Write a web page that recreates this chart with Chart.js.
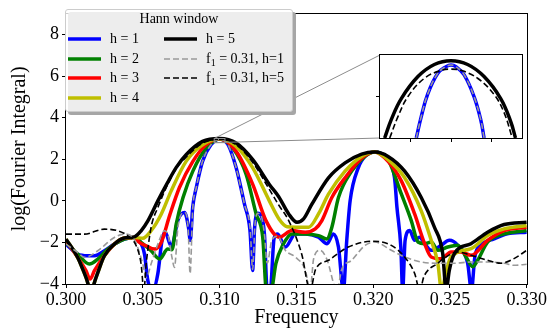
<!DOCTYPE html>
<html>
<head>
<meta charset="utf-8">
<script src="https://cdn.jsdelivr.net/npm/chart.js@4.4.1/dist/chart.umd.min.js"></script>
<style>
  html, body { margin: 0; padding: 0; background: #fff; }
  #wrap { position: relative; width: 548px; height: 331px; font-family: "Liberation Serif", "DejaVu Serif", serif; }
  #mainChart { position: absolute; left: 0; top: 0; }
  #insetChart { position: absolute; left: 370px; top: 48px; }
  #legendShadow { position: absolute; left: 68px; top: 12px; width: 228px; height: 103px; background: #a6a6a6; border-radius: 3px; }
  #legend { position: absolute; left: 65px; top: 9px; width: 226px; height: 101px; background: rgba(255,255,255,0.8); border: 1px solid #ccc; border-radius: 3px; }
  #legend .title { position: absolute; left: 0; right: 0; top: 0; text-align: center; font-size: 14px; line-height: 18px; }
  #legend .item { position: absolute; height: 18px; display: flex; align-items: center; font-size: 14px; white-space: nowrap; }
  #legend .item svg { margin-right: 9px; }
  #legend sub { font-size: 10px; vertical-align: -3px; line-height: 0; }
</style>
</head>
<body>
<div id="wrap">
  <canvas id="mainChart" width="548" height="331"></canvas>
  <canvas id="insetChart" width="160" height="100"></canvas>
  <div id="legendShadow"></div>
  <div id="legend"><div class="title">Hann window</div></div>
</div>
<script>
// axis ticks
const xTicks = [0.300, 0.305, 0.310, 0.315, 0.320, 0.325, 0.330];
const yTicks = [-4, -2, 0, 2, 4, 6, 8];
const insetXTicks = [0.3098, 0.3100, 0.3102];
const insetYTicks = [2.9];
const insetXRange = [0.30965, 0.31035];
const insetYRange = [2.8, 3.0];

// h = 1
const freqH1 = [0.3000, 0.30076, 0.30141, 0.30185, 0.3025, 0.30315, 0.3038, 0.30435, 0.30478, 0.30511, 0.30533, 0.30565, 0.30598, 0.30625, 0.30645, 0.30686, 0.3073, 0.30772, 0.30798, 0.30809, 0.30825, 0.30848, 0.30889, 0.30944, 0.3100, 0.31055, 0.31108, 0.31162, 0.31198, 0.31215, 0.31228, 0.31249, 0.3127, 0.31292, 0.3131, 0.3133, 0.31355, 0.31378, 0.31428, 0.31493, 0.31558, 0.31644, 0.3170, 0.31741, 0.31774, 0.31806, 0.31828, 0.3185, 0.31903, 0.31957, 0.3201, 0.32075, 0.32139, 0.32155, 0.3218, 0.32192, 0.32208, 0.32238, 0.3227, 0.32302, 0.32335, 0.32378, 0.32443, 0.32496, 0.32551, 0.32615, 0.3264, 0.32662, 0.3270, 0.32787, 0.32874, 0.3300];
const logH1 = [-2.08, -2.56, -2.64, -2.64, -2.4, -2.08, -1.84, -1.76, -1.92, -2.56, -3.84, -4.3, -3.5, -1.9, -1.5, -2.2, -0.9, -0.56, -1.3, -1.9, -0.3, 0.63, 1.9, 2.7, 2.98, 2.7, 1.59, -0.16, -1.43, -3.35, -1.3, -0.6, -0.7, -1.6, -4.3, -4.3, -1.8, -1.6, -2.22, -1.59, -1.59, -1.75, -2.06, -1.59, -2.22, -4.3, -1.9, 0.0, 1.59, 2.22, 2.35, 2.14, 1.11, -0.32, -2.22, -4.3, -1.9, -1.43, -1.9, -1.75, -2.06, -2.38, -2.14, -1.9, -2.14, -3.0, -4.3, -2.7, -2.14, -1.83, -1.59, -1.51];

// h = 2
const freqH2 = [0.3000, 0.30076, 0.30152, 0.30207, 0.30272, 0.3038, 0.30446, 0.30489, 0.30554, 0.30609, 0.30663, 0.3069, 0.30718, 0.30762, 0.30826, 0.30912, 0.3100, 0.31086, 0.31173, 0.31238, 0.31281, 0.31305, 0.31335, 0.31367, 0.3141, 0.31471, 0.31558, 0.31644, 0.31698, 0.31731, 0.31774, 0.3186, 0.31947, 0.3201, 0.32097, 0.32184, 0.32248, 0.32292, 0.32335, 0.32378, 0.32421, 0.32486, 0.32551, 0.32605, 0.32648, 0.3268, 0.32745, 0.32853, 0.3300];
const logH2 = [-2.0, -2.56, -3.04, -2.8, -2.32, -1.84, -1.76, -2.0, -2.4, -2.8, -2.32, -2.35, -1.1, 0.16, 1.43, 2.54, 2.98, 2.54, 1.27, -0.63, -1.75, -4.3, -4.3, -3.0, -2.15, -1.59, -1.59, -1.67, -1.83, -1.27, 0.16, 1.43, 2.14, 2.35, 1.98, 0.32, -0.95, -1.98, -2.06, -1.98, -2.38, -2.22, -2.14, -2.7, -3.17, -2.86, -1.98, -1.59, -1.43];

// h = 3
const freqH3 = [0.3000, 0.30076, 0.3013, 0.30157, 0.30185, 0.3025, 0.30315, 0.3038, 0.30446, 0.30478, 0.30522, 0.30576, 0.3062, 0.30675, 0.30738, 0.30826, 0.30912, 0.3100, 0.31108, 0.31216, 0.31302, 0.31389, 0.31471, 0.31558, 0.31623, 0.31666, 0.31731, 0.31817, 0.31925, 0.3201, 0.32097, 0.32184, 0.3227, 0.32335, 0.32378, 0.32443, 0.32507, 0.32572, 0.32637, 0.32745, 0.32853, 0.3300];
const logH3 = [-1.9, -2.72, -3.36, -3.76, -3.36, -2.64, -2.08, -1.79, -1.76, -2.0, -2.16, -2.32, -2.0, -0.7, 0.63, 1.9, 2.7, 2.98, 2.38, 0.79, -0.95, -1.75, -1.43, -1.51, -1.35, -0.95, 0.16, 1.11, 2.06, 2.35, 1.9, 0.95, -0.63, -2.06, -2.7, -2.78, -2.46, -2.46, -2.62, -1.9, -1.43, -1.27];

// h = 4
const freqH4 = [0.3000, 0.30076, 0.3013, 0.30163, 0.30196, 0.3025, 0.30315, 0.3038, 0.30446, 0.3050, 0.30554, 0.3062, 0.30685, 0.30782, 0.30889, 0.3100, 0.31108, 0.31216, 0.31324, 0.31389, 0.3144, 0.31493, 0.3158, 0.31644, 0.31709, 0.31817, 0.31925, 0.3201, 0.32097, 0.32205, 0.32313, 0.32378, 0.32421, 0.32445, 0.32475, 0.32507, 0.32637, 0.32745, 0.32853, 0.3300];
const logH4 = [-1.84, -2.72, -3.68, -4.3, -3.68, -2.64, -2.08, -1.79, -1.76, -1.8, -1.44, -0.64, 0.48, 1.9, 2.7, 2.99, 2.62, 1.59, 0.0, -0.9, -1.25, -1.27, -1.27, -0.63, 0.32, 1.43, 2.14, 2.35, 1.98, 1.11, -0.48, -1.9, -3.0, -4.3, -3.4, -2.7, -2.3, -1.67, -1.35, -1.19];

// h = 5
const freqH5 = [0.3000, 0.30076, 0.3013, 0.30163, 0.30196, 0.3025, 0.30315, 0.3038, 0.30446, 0.30489, 0.30533, 0.30598, 0.30663, 0.30717, 0.30782, 0.30889, 0.3100, 0.31108, 0.31216, 0.31324, 0.31385, 0.3145, 0.31504, 0.31547, 0.31601, 0.31709, 0.31817, 0.31925, 0.3201, 0.32097, 0.32205, 0.32313, 0.32399, 0.32453, 0.32475, 0.32496, 0.32529, 0.32637, 0.32745, 0.32853, 0.3300];
const logH5 = [-1.84, -2.72, -3.68, -4.3, -3.68, -2.64, -2.08, -1.79, -1.73, -1.44, -0.96, 0.0, 0.9, 1.6, 2.22, 2.86, 3.0, 2.78, 1.98, 0.79, 0.2, -0.63, -1.03, -0.87, -0.16, 1.11, 1.83, 2.25, 2.35, 2.14, 1.43, 0.16, -1.27, -2.54, -4.3, -3.33, -2.54, -2.06, -1.51, -1.14, -1.03];

// f1 = 0.31, h = 1
const freqF1H1 = [0.3000, 0.30076, 0.3012, 0.30207, 0.30315, 0.3038, 0.30435, 0.30467, 0.3050, 0.30522, 0.30554, 0.30598, 0.30641, 0.30663, 0.3069, 0.30706, 0.3073, 0.30772, 0.30795, 0.30808, 0.30825, 0.30848, 0.30889, 0.30944, 0.3100, 0.31055, 0.31108, 0.31162, 0.312, 0.31215, 0.3123, 0.31249, 0.3127, 0.31292, 0.3131, 0.3134, 0.31378, 0.31428, 0.31493, 0.31558, 0.3159, 0.31612, 0.31655, 0.31698, 0.31765, 0.31795, 0.3186, 0.31947, 0.3201, 0.32118, 0.32205, 0.32313, 0.32421, 0.32529, 0.32637, 0.32745, 0.32853, 0.32917, 0.3300];
const logF1H1 = [-2.08, -2.48, -2.72, -2.4, -1.76, -1.6, -1.76, -2.24, -3.04, -3.7, -3.04, -2.08, -1.44, -1.6, -2.72, -3.2, -1.2, -0.56, -1.3, -3.5, -0.4, 0.63, 1.9, 2.7, 2.97, 2.7, 1.59, -0.16, -1.43, -3.3, -1.2, -0.6, -0.7, -1.6, -3.0, -1.9, -1.7, -2.38, -2.7, -3.33, -4.3, -2.8, -2.38, -2.8, -4.3, -3.3, -2.86, -2.14, -1.98, -2.38, -2.7, -2.94, -3.0, -3.0, -2.94, -2.94, -3.0, -3.1, -3.05];

// f1 = 0.31, h = 5
const freqF1H5 = [0.3000, 0.3012, 0.3025, 0.30337, 0.30402, 0.30457, 0.30489, 0.30507, 0.30522, 0.30554, 0.30598, 0.30663, 0.30717, 0.30782, 0.30889, 0.3100, 0.31108, 0.31216, 0.31324, 0.31385, 0.3145, 0.31534, 0.3159, 0.31625, 0.31709, 0.31838, 0.3200, 0.32118, 0.32205, 0.3227, 0.32304, 0.3233, 0.32421, 0.32464, 0.32551, 0.32637, 0.32745, 0.32831, 0.32917, 0.3300];
const logF1H5 = [-1.6, -1.6, -1.36, -1.44, -1.68, -2.16, -3.04, -4.3, -3.04, -1.28, -0.32, 0.8, 1.55, 2.1, 2.78, 2.97, 2.7, 1.85, 0.55, -0.2, -0.95, -2.54, -4.3, -3.3, -2.86, -2.22, -1.94, -2.14, -2.7, -3.49, -4.3, -3.65, -3.0, -2.75, -2.46, -2.62, -2.86, -3.0, -2.78, -2.38];

// inset (zoom on the 0.31 peak)
const insetFreqH1 = [0.309829, 0.309853, 0.309886, 0.309935, 0.309976, 0.310000, 0.310024, 0.310065, 0.310114, 0.310147, 0.310163];
const insetLogH1 = [2.800, 2.851, 2.907, 2.956, 2.972, 2.976, 2.972, 2.952, 2.899, 2.843, 2.800];
const insetFreqH5 = [0.309673, 0.309706, 0.309755, 0.309837, 0.309918, 0.310000, 0.310082, 0.310163, 0.310245, 0.310294, 0.310318];
const insetLogH5 = [2.800, 2.845, 2.895, 2.948, 2.977, 2.986, 2.977, 2.948, 2.895, 2.840, 2.800];
const insetFreqF1H5 = [0.309698, 0.309739, 0.309788, 0.309869, 0.309951, 0.310000, 0.310049, 0.310131, 0.310212, 0.310261, 0.310302];
const insetLogF1H5 = [2.800, 2.852, 2.900, 2.944, 2.963, 2.966, 2.963, 2.944, 2.905, 2.862, 2.800];

const FONT = '"Liberation Serif", "DejaVu Serif", serif';

const seriesStyle = {
  h1: { label: 'h = 1', color: '#0000ff', width: 3.5, dash: [] },
  h2: { label: 'h = 2', color: '#008000', width: 3.5, dash: [] },
  h3: { label: 'h = 3', color: '#ff0000', width: 3.5, dash: [] },
  h4: { label: 'h = 4', color: '#bfbf00', width: 3.5, dash: [] },
  h5: { label: 'h = 5', color: '#000000', width: 3.5, dash: [] },
  f1h1: { label: 'f<sub>1</sub> = 0.31, h=1', color: '#999999', width: 1.6, dash: [6, 3] },
  f1h5: { label: 'f<sub>1</sub> = 0.31, h=5', color: '#000000', width: 1.6, dash: [6, 3] },
};

function toPoints(freqs, vals) {
  return freqs.map((f, i) => ({ x: f, y: vals[i] }));
}

function makeDataset(key, freqs, vals, smooth) {
  const s = seriesStyle[key];
  const ds = {
    label: key,
    data: toPoints(freqs, vals),
    borderColor: s.color,
    backgroundColor: s.color,
    borderWidth: s.width,
    borderDash: s.dash,
    pointRadius: 0,
    fill: false,
    clip: 0,
  };
  if (smooth) {
    ds.tension = 0.4;
  } else {
    ds.cubicInterpolationMode = 'monotone';
  }
  return ds;
}

const frameBox = {
  id: 'frameBox',
  beforeDatasetsDraw(chart, args, opts) {
    if (!opts.fill) return;
    const { ctx, chartArea: a } = chart;
    ctx.save();
    ctx.fillStyle = opts.fill;
    ctx.fillRect(a.left, a.top, a.right - a.left, a.bottom - a.top);
    ctx.restore();
  },
  afterDraw(chart) {
    const { ctx, chartArea: a } = chart;
    ctx.save();
    ctx.strokeStyle = '#000';
    ctx.lineWidth = 1;
    ctx.strokeRect(Math.round(a.left) - 0.5, Math.round(a.top) - 0.5, Math.round(a.right - a.left) + 1, Math.round(a.bottom - a.top) + 1);
    ctx.restore();
  },
};

function tickGrid() {
  return { display: true, drawOnChartArea: false, drawTicks: true, tickLength: 4, color: '#000', lineWidth: 1 };
}

// inset chart
const insetCanvas = document.getElementById('insetChart');
const insetChart = new Chart(insetCanvas, {
  type: 'line',
  data: {
    datasets: [
      makeDataset('f1h5', insetFreqF1H5, insetLogF1H5, true),
      makeDataset('f1h1', insetFreqH1, insetLogH1, true),
      makeDataset('h5', insetFreqH5, insetLogH5, true),
      makeDataset('h1', insetFreqH1, insetLogH1, true),
    ],
  },
  options: {
    responsive: false,
    animation: false,
    layout: { padding: { top: 7, right: 8, left: 0, bottom: 0 } },
    plugins: { legend: { display: false }, tooltip: { enabled: false }, frameBox: { fill: '#fff' } },
    scales: {
      x: {
        type: 'linear', min: insetXRange[0], max: insetXRange[1],
        afterBuildTicks(scale) { scale.ticks = insetXTicks.map((v) => ({ value: v })); },
        afterFit(scale) { scale.height = 10; },
        ticks: { display: false },
        grid: tickGrid(),
        border: { display: false },
      },
      y: {
        type: 'linear', min: insetYRange[0], max: insetYRange[1],
        afterBuildTicks(scale) { scale.ticks = insetYTicks.map((v) => ({ value: v })); },
        afterFit(scale) { scale.width = 10; },
        ticks: { display: false },
        grid: tickGrid(),
        border: { display: false },
      },
    },
  },
  plugins: [frameBox],
});

const insetMarker = {
  id: 'insetMarker',
  afterDatasetsDraw(chart) {
    const { ctx, scales: { x, y } } = chart;
    const ia = insetChart.chartArea;
    const ox = insetCanvas.offsetLeft;
    const oy = insetCanvas.offsetTop;
    const rx0 = x.getPixelForValue(insetXRange[0]);
    const rx1 = x.getPixelForValue(insetXRange[1]);
    const ry0 = y.getPixelForValue(insetYRange[1]);
    const ry1 = y.getPixelForValue(insetYRange[0]);
    ctx.save();
    ctx.strokeStyle = '#8c8c8c';
    ctx.lineWidth = 1;
    ctx.strokeRect(rx0, ry0, rx1 - rx0, ry1 - ry0);
    ctx.beginPath();
    ctx.moveTo(rx0, ry0);
    ctx.lineTo(ox + ia.left, oy + ia.top);
    ctx.moveTo(rx0, ry1);
    ctx.lineTo(ox + ia.left, oy + ia.bottom);
    ctx.stroke();
    ctx.restore();
  },
};

// main chart
new Chart(document.getElementById('mainChart'), {
  type: 'line',
  data: {
    datasets: [
      makeDataset('f1h5', freqF1H5, logF1H5),
      makeDataset('f1h1', freqF1H1, logF1H1),
      makeDataset('h5', freqH5, logH5),
      makeDataset('h4', freqH4, logH4),
      makeDataset('h3', freqH3, logH3),
      makeDataset('h2', freqH2, logH2),
      makeDataset('h1', freqH1, logH1),
    ],
  },
  options: {
    responsive: false,
    animation: false,
    layout: { padding: { top: 11, right: 20, left: 0, bottom: 0 } },
    plugins: { legend: { display: false }, tooltip: { enabled: false }, frameBox: {} },
    scales: {
      x: {
        type: 'linear', min: 0.300, max: 0.330,
        afterBuildTicks(scale) { scale.ticks = xTicks.map((v) => ({ value: v })); },
        afterFit(scale) { scale.height = 47; },
        ticks: {
          color: '#000', padding: 1, maxRotation: 0,
          font: { family: FONT, size: 18 },
          callback(value) { return Number(value).toFixed(3); },
        },
        grid: tickGrid(),
        border: { display: false },
        title: { display: true, text: 'Frequency', color: '#000', font: { family: FONT, size: 20 }, padding: { top: 0, bottom: 1 } },
      },
      y: {
        type: 'linear', min: -4, max: 9,
        afterBuildTicks(scale) { scale.ticks = yTicks.map((v) => ({ value: v })); },
        afterFit(scale) { scale.width = 66; },
        ticks: {
          color: '#000', padding: 3,
          font: { family: FONT, size: 18 },
          callback(value) { return String(value).replace('-', '\u2212'); },
        },
        grid: tickGrid(),
        border: { display: false },
        title: { display: true, text: 'log(Fourier Integral)', color: '#000', font: { family: FONT, size: 20 }, padding: { top: 8, bottom: 0 } },
      },
    },
  },
  plugins: [frameBox, insetMarker],
});

// legend, two columns like the original
const legendEl = document.getElementById('legend');
const legendColumns = [['h1', 'h2', 'h3', 'h4'], ['h5', 'f1h1', 'f1h5']];
legendColumns.forEach((keys, col) => {
  keys.forEach((key, row) => {
    const s = seriesStyle[key];
    const item = document.createElement('div');
    item.className = 'item';
    item.style.left = `${2 + col * 96}px`;
    item.style.top = `${20 + row * 19.7}px`;
    const dash = s.dash.length ? `stroke-dasharray="${s.dash.join(',')}"` : '';
    item.innerHTML = `<svg width="33" height="8"><line x1="0" y1="4" x2="33" y2="4" stroke="${s.color}" stroke-width="${s.width}" ${dash}/></svg><span>${s.label}</span>`;
    legendEl.appendChild(item);
  });
});
</script>
</body>
</html>
